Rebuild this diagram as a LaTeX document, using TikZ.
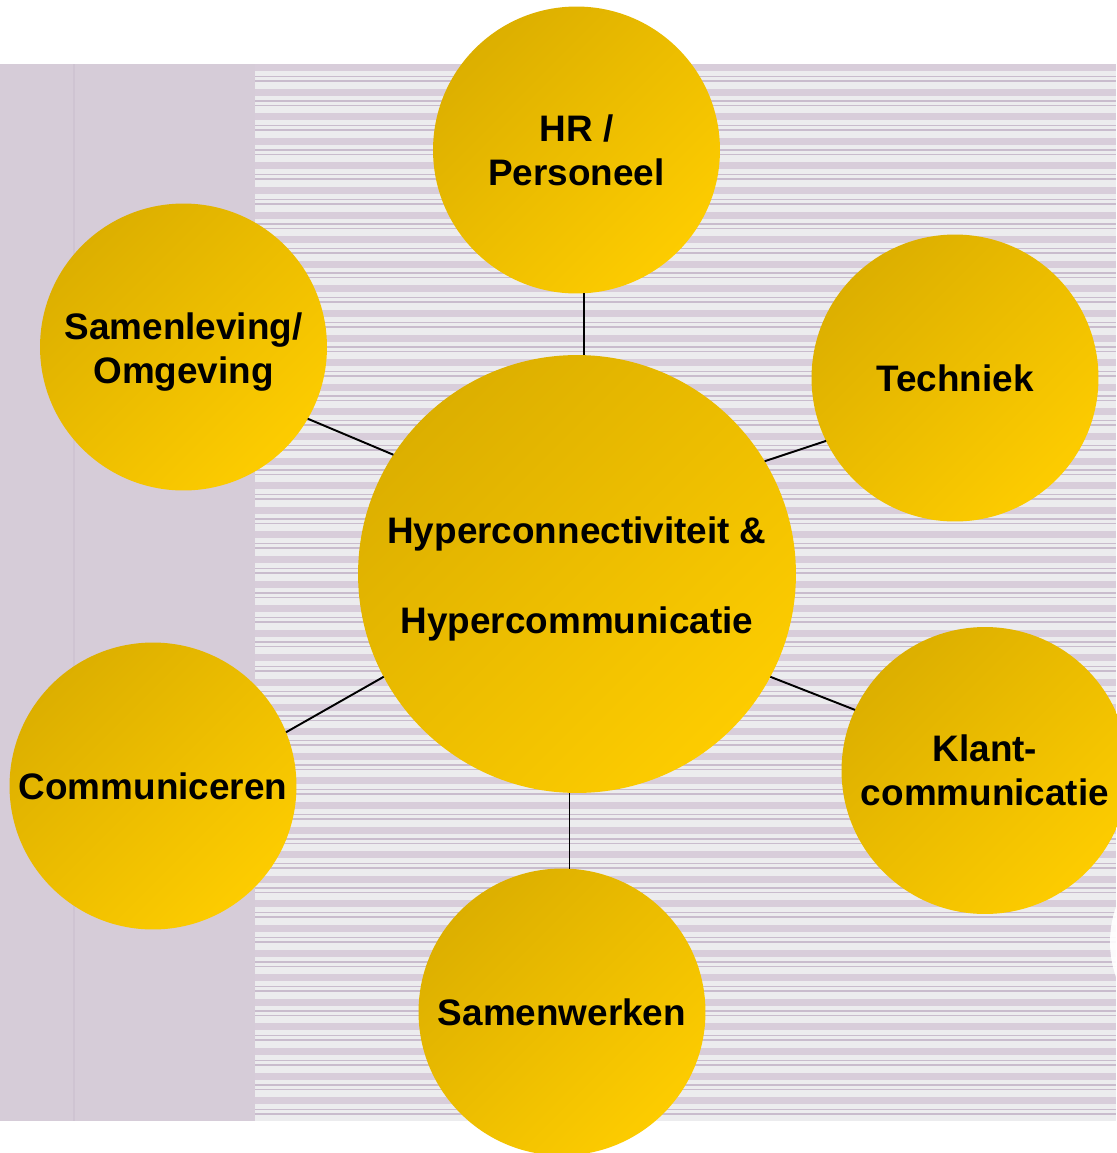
\documentclass[tikz,border=0pt]{standalone}
\usepackage{fontspec}
\setmainfont{Liberation Sans}
\definecolor{panel}{HTML}{D6CCD8}
\definecolor{panelline}{HTML}{CFC4D2}
\definecolor{stripebase}{HTML}{ECECEE}
\definecolor{stripewide}{HTML}{D8CDDA}
\definecolor{stripethin}{HTML}{C9BCCD}
\definecolor{goldA}{HTML}{DCAF00}
\definecolor{goldB}{HTML}{FDCC00}
\tikzset{
  bubble/.style={circle, draw=none, inner sep=0pt, outer sep=0pt,
    minimum size=5.74cm, top color=goldA, bottom color=goldB, shading angle=45,
    align=center, font=\bfseries\fontsize{21}{25}\selectfont, text=black},
  hub/.style={bubble, minimum size=8.76cm},
  bubbletext/.style={align=center, inner sep=0pt, font=\bfseries\fontsize{21}{25}\selectfont, text=black},
  hubtext/.style={bubbletext, font=\bfseries\fontsize{21}{51}\selectfont},
  link/.style={draw=black, line width=1.1pt}
}
\begin{document}
\begin{tikzpicture}[x=0.02cm, y=-0.02cm]
\useasboundingbox (0,0) rectangle (1116,1153);
\fill[white] (0,0) rectangle (1116,1153);
% striped area
\fill[stripebase] (255,64) rectangle (1116,1121);
\begin{scope}
  \clip (255,64) rectangle (1116,1121);
  \foreach \i in {0,...,43} {
    \pgfmathsetmacro{\yy}{64+\i*24.6}
    \fill[stripewide] (255,\yy) rectangle (1116,\yy+7);
    \fill[stripethin] (255,\yy+11.5) rectangle (1116,\yy+13);
    \fill[stripethin] (255,\yy+16) rectangle (1116,\yy+17.5);
  }
\end{scope}
% left panel
\fill[panel] (0,64) rectangle (255,1121);
\fill[panelline] (73,64) rectangle (75,1121);
% partial white disc at right edge
\fill[white, opacity=0.9] (1215,942) circle[radius=2.1cm];
% bubbles
\node[hub] (c) at (577,574) {};
\node[hubtext] (ct) at ([yshift=-0.1cm]c.center) {Hyperconnectiviteit \&\\Hypercommunicatie};
\node[bubble] (hr) at (576.5,150) {HR /\\Personeel};
\node[bubble] (tech) at (955,378) {Techniek};
\node[bubble] (klant) at (985,770.5) {Klant-\\communicatie};
\node[bubble] (samw) at (562,1012) {Samenwerken};
\node[bubble] (comm) at (153,786) {Communiceren};
\node[bubble] (saml) at (183.5,347) {};
\node[bubbletext] (samlt) at ([yshift=-0.1cm]saml.center) {Samenleving/\\Omgeving};
% connectors
\draw[link] (hr.273) -- (hr.273 |- c.north);
\draw[link] (c.31) -- (tech.206);
\draw[link] (c.332.9) -- (klant.155.6);
\draw[link] (samw.87.2) -- (samw.87.2 |- c.south);
\draw[link] (c.208) -- (comm.22.8);
\draw[link] (c.147.7) -- (saml.330);
\end{tikzpicture}
\end{document}
